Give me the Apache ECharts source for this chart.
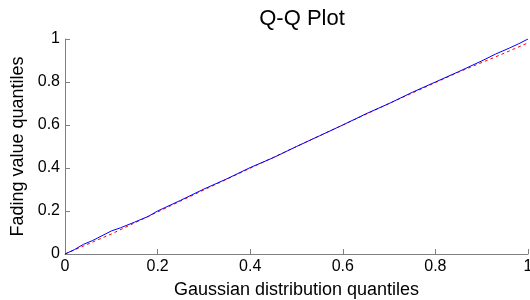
<!DOCTYPE html>
<html>
<head>
<meta charset="utf-8">
<script src="https://cdn.jsdelivr.net/npm/echarts@6/dist/echarts.min.js"></script>
<style>html,body{margin:0;padding:0;background:#fff;}#c{width:530px;height:300px;}</style>
</head>
<body>
<div id="c"></div>
<script>
const dataX = [0, 0.02, 0.04, 0.06, 0.08, 0.10, 0.12, 0.15, 0.18, 0.20, 0.25, 0.30, 0.35, 0.40, 0.45, 0.50, 0.55, 0.60, 0.65, 0.70, 0.75, 0.80, 0.85, 0.90, 0.93, 0.96, 0.98, 1.00];
const dataY = [0, 0.020, 0.045, 0.063, 0.085, 0.107, 0.122, 0.148, 0.175, 0.200, 0.250, 0.302, 0.350, 0.402, 0.448, 0.500, 0.550, 0.600, 0.652, 0.700, 0.752, 0.800, 0.848, 0.898, 0.930, 0.958, 0.978, 1.000];
const refX = [0, 0.10, 0.30, 0.50, 0.70, 0.85, 0.94, 0.998];
const refY = [0, 0.093, 0.298, 0.500, 0.700, 0.846, 0.926, 0.980];
const tickVals = [0, 0.2, 0.4, 0.6, 0.8, 1];

const chart = echarts.init(document.getElementById('c'), null, {renderer: 'canvas'});
const fmt = v => (v === 0 ? '0' : (v === 1 ? '1' : String(+v.toFixed(1))));
const axisCommon = {
  type: 'value', min: 0, max: 1, interval: 0.2,
  axisLine: {show: true, lineStyle: {color: '#808080', width: 1}},
  axisTick: {show: true, inside: true, length: 5, lineStyle: {color: '#808080'}},
  splitLine: {show: false},
  axisLabel: {color: '#000', fontSize: 16, margin: 5, fontFamily: 'Liberation Sans, Arial', formatter: fmt},
  nameLocation: 'middle',
  nameTextStyle: {color: '#000', fontSize: 18, fontFamily: 'Liberation Sans, Arial'}
};
chart.setOption({
  animation: false,
  title: {text: 'Q-Q Plot', left: 297, top: 3, textAlign: 'center',
    textStyle: {color: '#000', fontSize: 22, fontWeight: 'normal', fontFamily: 'Liberation Sans, Arial'}},
  grid: {left: 65, right: 2, top: 39, bottom: 46, containLabel: false, outerBoundsMode: 'none'},
  xAxis: Object.assign({}, axisCommon, {name: 'Gaussian distribution quantiles', nameGap: 27}),
  yAxis: Object.assign({}, axisCommon, {name: 'Fading value quantiles', nameGap: 33}),
  series: [
    {type: 'line', data: refX.map((x, i) => [x, refY[i]]), showSymbol: false, symbol: 'none',
     lineStyle: {color: '#ff0000', width: 1, type: [3, 3]}, z: 2},
    {type: 'line', data: dataX.map((x, i) => [x, dataY[i]]), showSymbol: false, symbol: 'none',
     lineStyle: {color: '#0000ff', width: 1}, z: 3}
  ]
});
</script>
</body>
</html>
